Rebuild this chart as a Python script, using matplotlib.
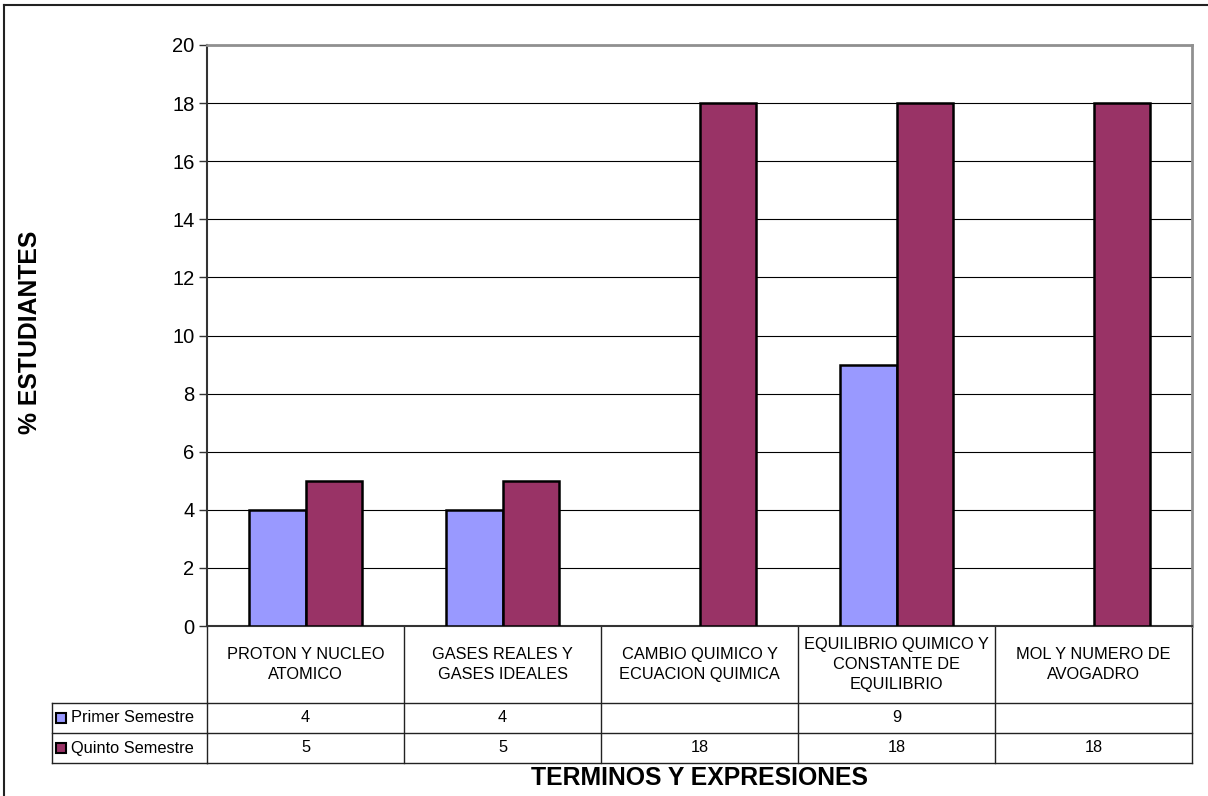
import matplotlib
matplotlib.use('Agg')
import matplotlib.pyplot as plt
from matplotlib.transforms import blended_transform_factory
from matplotlib.patches import Rectangle
from matplotlib.lines import Line2D

categories = ["PROTON Y NUCLEO\nATOMICO", "GASES REALES Y\nGASES IDEALES",
              "CAMBIO QUIMICO Y\nECUACION QUIMICA",
              "EQUILIBRIO QUIMICO Y\nCONSTANTE DE\nEQUILIBRIO",
              "MOL Y NUMERO DE\nAVOGADRO"]
series_names = ["Primer Semestre", "Quinto Semestre"]
primer = [4, 4, None, 9, None]
quinto = [5, 5, 18, 18, 18]
yticks = list(range(0, 21, 2))
colors = ["#9999FF", "#993366"]
ylabel = "% ESTUDIANTES"
xlabel = "TERMINOS Y EXPRESIONES"

plt.rcParams['font.family'] = ['Liberation Sans', 'DejaVu Sans']

W, H = 1208, 796
fig = plt.figure(figsize=(W / 100, H / 100), dpi=100)


def fx(px):
    return px / W


def fy(py):
    return 1 - py / H


L, R, T, B = 207, 1192, 45, 626
ax = fig.add_axes([fx(L), fy(B), (R - L) / W, (B - T) / H])

n = len(categories)
bw = 1 / 3.5
series = [primer, quinto]
for s, (vals, col) in enumerate(zip(series, colors)):
    for i, v in enumerate(vals):
        if v is None:
            continue
        ax.bar(i + (s - 0.5) * bw, v, width=bw, color=col, edgecolor='black',
               linewidth=1.8, zorder=3)

ax.set_xlim(-0.5, n - 0.5)
ax.set_ylim(0, 20)
ax.set_yticks(yticks)
ax.set_xticks([])
ax.yaxis.grid(True, color='black', linewidth=0.8, zorder=0)
ax.set_axisbelow(True)
ax.tick_params(axis='y', length=6, width=1, labelsize=14.5, pad=3, color='#333333')
for side in ['top', 'right']:
    ax.spines[side].set_color('#909090')
    ax.spines[side].set_linewidth(2)
ax.spines['left'].set_color('#333333')
ax.spines['left'].set_linewidth(1.5)
ax.spines['bottom'].set_color('#333333')
ax.spines['bottom'].set_linewidth(1.5)

trans = blended_transform_factory(ax.transData, fig.transFigure)

# table geometry (pixels)
row_cat_bot = 703
row1_bot = 733
row2_bot = 763
leg_left = 52


def hline(py, x0, x1, data=True):
    if data:
        ax.add_line(Line2D([x0, x1], [fy(py), fy(py)], transform=trans,
                           color='#222222', lw=1, clip_on=False))
    else:
        fig.add_artist(Line2D([x0, x1], [fy(py), fy(py)],
                              transform=fig.transFigure, color='#222222', lw=1))


def vline(x, py0, py1):
    ax.add_line(Line2D([x, x], [fy(py0), fy(py1)], transform=trans,
                       color='#222222', lw=1, clip_on=False))


for py in [row_cat_bot, row1_bot, row2_bot]:
    hline(py, -0.5, n - 0.5)
    hline(py, fx(leg_left), fx(L), data=False)
for k in range(n + 1):
    vline(k - 0.5, B, row2_bot)
fig.add_artist(Line2D([fx(leg_left), fx(leg_left)], [fy(row_cat_bot), fy(row2_bot)],
                      transform=fig.transFigure, color='#222222', lw=1))

for i, c in enumerate(categories):
    ax.text(i, fy((B + row_cat_bot) / 2), c, transform=trans, ha='center',
            va='center', fontsize=11.8, linespacing=1.42, clip_on=False)

row_centers = [(row_cat_bot + row1_bot) / 2, (row1_bot + row2_bot) / 2]
for s, vals in enumerate(series):
    for i, v in enumerate(vals):
        if v is None:
            continue
        ax.text(i, fy(row_centers[s]), str(v), transform=trans, ha='center',
                va='center', fontsize=11.8, clip_on=False)
    # legend key
    fig.add_artist(Rectangle((fx(56), fy(row_centers[s] + 5)), 10 / W, 10 / H,
                             transform=fig.transFigure, facecolor=colors[s],
                             edgecolor='black', linewidth=1.5))
    fig.text(fx(71), fy(row_centers[s]), series_names[s], ha='left',
             va='center', fontsize=11.8)

fig.text(fx((L + R) / 2), fy(785), xlabel, ha='center', va='baseline',
         fontsize=17.8, fontweight='bold')
fig.text(fx(30), fy(332), ylabel, ha='center', va='center',
         fontsize=17.8, fontweight='bold', rotation=90)

# outer chart border
fig.add_artist(Line2D([fx(4), 1], [fy(5), fy(5)], transform=fig.transFigure,
                      color='#222222', lw=1.5))
fig.add_artist(Line2D([fx(4), fx(4)], [fy(5), 0], transform=fig.transFigure,
                      color='#222222', lw=1.5))

fig.savefig('out.png', dpi=100)
